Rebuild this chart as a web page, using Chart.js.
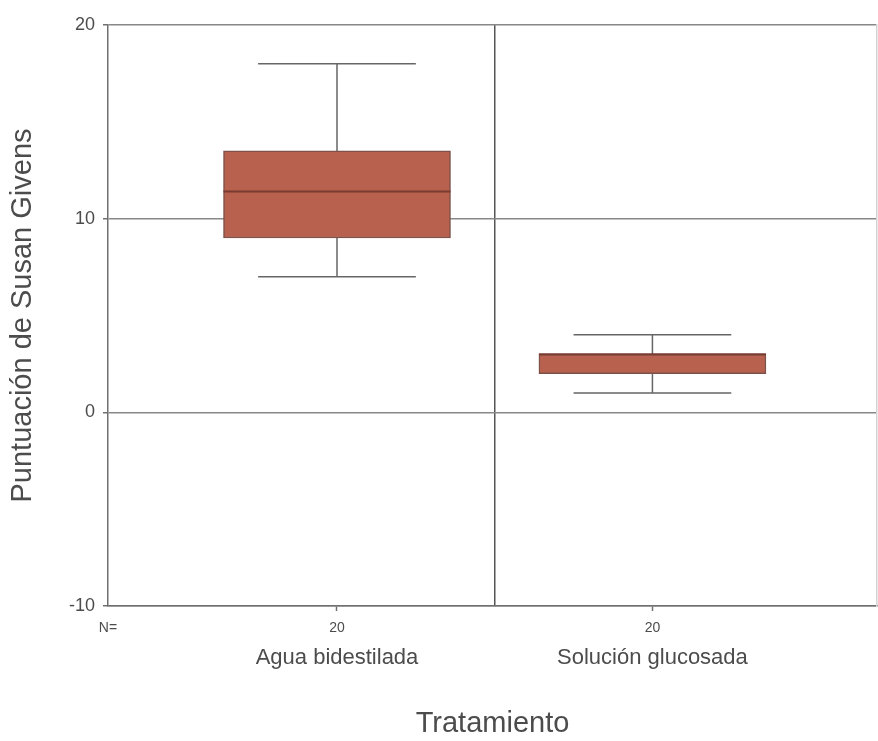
<!DOCTYPE html>
<html>
<head>
<meta charset="utf-8">
<script src="https://cdn.jsdelivr.net/npm/chart.js@4.4.1/dist/chart.umd.min.js"></script>
<style>
  html, body { margin: 0; padding: 0; background: #fff; }
  #wrap { width: 878px; height: 741px; }
</style>
</head>
<body>
<div id="wrap"><canvas id="boxChart"></canvas></div>
<script>
// Values
const categories = ['Agua bidestilada', 'Solución glucosada'];
const positions = [1, 2];
const nCounts = [20, 20];
const whiskerLow = [7, 1];
const q1 = [9, 2];
const medians = [11.4, 3];
const q3 = [13.5, 3];
const whiskerHigh = [18, 4];
const yTicks = [-10, 0, 10, 20];

// x range so the two groups sit where they do in the picture
const xMin = 0.274;
const xMax = 2.712;
const divider = 1.5;
const capHalf = 0.25;

const textColor = '#4c4c4c';
const lineColor = '#707070';

Chart.defaults.font.family = "'Liberation Sans', Arial, sans-serif";

// whiskers go behind the boxes, medians on top
const boxParts = {
    id: 'boxParts',
    beforeDatasetsDraw(chart) {
        const ctx = chart.ctx;
        const xs = chart.scales.x;
        const ys = chart.scales.y;
        ctx.save();
        ctx.strokeStyle = '#666';
        ctx.lineWidth = 1.5;
        positions.forEach((p, i) => {
            const cx = xs.getPixelForValue(p);
            const half = xs.getPixelForValue(p + capHalf) - cx;
            const yLo = ys.getPixelForValue(whiskerLow[i]);
            const yHi = ys.getPixelForValue(whiskerHigh[i]);
            ctx.beginPath();
            ctx.moveTo(cx, yLo);
            ctx.lineTo(cx, ys.getPixelForValue(q1[i]));
            ctx.moveTo(cx, ys.getPixelForValue(q3[i]));
            ctx.lineTo(cx, yHi);
            ctx.moveTo(cx - half, yLo);
            ctx.lineTo(cx + half, yLo);
            ctx.moveTo(cx - half, yHi);
            ctx.lineTo(cx + half, yHi);
            ctx.stroke();
        });
        ctx.restore();
    },
    afterDatasetsDraw(chart) {
        const ctx = chart.ctx;
        const ys = chart.scales.y;
        const meta = chart.getDatasetMeta(0);
        ctx.save();
        ctx.strokeStyle = '#7a3b30';
        ctx.lineWidth = 2;
        meta.data.forEach((bar, i) => {
            const y = ys.getPixelForValue(medians[i]);
            ctx.beginPath();
            ctx.moveTo(bar.x - bar.width / 2, y);
            ctx.lineTo(bar.x + bar.width / 2, y);
            ctx.stroke();
        });
        ctx.restore();
    }
};

const ctx = document.getElementById('boxChart').getContext('2d');

new Chart(ctx, {
    type: 'bar',
    data: {
        datasets: [{
            label: 'Puntuación',
            data: positions.map((p, i) => ({ x: p, y: [q1[i], q3[i]] })),
            backgroundColor: '#b8614f',
            borderColor: '#7d5148',
            borderWidth: 1.5,
            borderSkipped: false,
            barThickness: 227,
            xAxisID: 'x',
            yAxisID: 'y'
        }]
    },
    options: {
        responsive: true,
        maintainAspectRatio: false,
        animation: false,
        layout: { padding: { top: 25, right: 1, left: 0, bottom: 0 } },
        plugins: {
            legend: { display: false },
            tooltip: { enabled: false }
        },
        scales: {
            x: {
                type: 'linear',
                position: 'bottom',
                min: xMin,
                max: xMax,
                bounds: 'data',
                offset: false,
                afterBuildTicks: scale => {
                    scale.ticks = [{ value: xMin }].concat(positions.map(v => ({ value: v })));
                },
                afterFit: scale => { scale.height = 35; },
                ticks: {
                    autoSkip: false,
                    maxRotation: 0,
                    padding: 9,
                    color: textColor,
                    font: { size: 14 },
                    callback: (value, index) => index === 0 ? 'N=' : String(nCounts[index - 1])
                },
                grid: {
                    offset: false,
                    drawOnChartArea: false,
                    drawTicks: true,
                    tickLength: 5,
                    tickWidth: 1.5,
                    tickColor: c => c.index === 0 ? 'transparent' : lineColor
                },
                border: { display: true, color: lineColor, width: 1.5 }
            },
            x2: {
                type: 'linear',
                position: 'bottom',
                min: xMin,
                max: xMax,
                bounds: 'data',
                offset: false,
                afterBuildTicks: scale => {
                    scale.ticks = [positions[0], divider, positions[1]].map(v => ({ value: v }));
                },
                afterFit: scale => { scale.height = 100; },
                ticks: {
                    autoSkip: false,
                    maxRotation: 0,
                    padding: 4,
                    color: textColor,
                    font: { size: 22 },
                    callback: value => {
                        const i = positions.indexOf(value);
                        return i >= 0 ? categories[i] : '';
                    }
                },
                grid: {
                    offset: false,
                    drawOnChartArea: true,
                    drawTicks: false,
                    lineWidth: 1.5,
                    color: c => (c.tick && c.tick.value === divider) ? '#555' : 'transparent'
                },
                border: { display: false },
                title: {
                    display: true,
                    text: 'Tratamiento',
                    color: textColor,
                    font: { size: 29 },
                    padding: { top: 0, bottom: 0 }
                }
            },
            y: {
                min: -10,
                max: 20,
                afterBuildTicks: scale => {
                    scale.ticks = yTicks.map(v => ({ value: v }));
                },
                afterFit: scale => { scale.width = 108; },
                ticks: {
                    padding: 8,
                    color: textColor,
                    font: { size: 18 }
                },
                grid: {
                    color: '#888',
                    lineWidth: 1.5,
                    tickLength: 5,
                    tickColor: lineColor
                },
                border: { display: true, color: lineColor, width: 1.5 },
                title: {
                    display: true,
                    text: 'Puntuación de Susan Givens',
                    color: textColor,
                    font: { size: 29 },
                    padding: { top: 6, bottom: 0 }
                }
            },
            yRight: {
                position: 'right',
                min: -10,
                max: 20,
                afterFit: scale => { scale.width = 0; },
                ticks: { display: false },
                grid: { drawOnChartArea: false, drawTicks: false },
                border: { display: true, color: '#d4d4d4', width: 1.5 }
            }
        }
    },
    plugins: [boxParts]
});
</script>
</body>
</html>
